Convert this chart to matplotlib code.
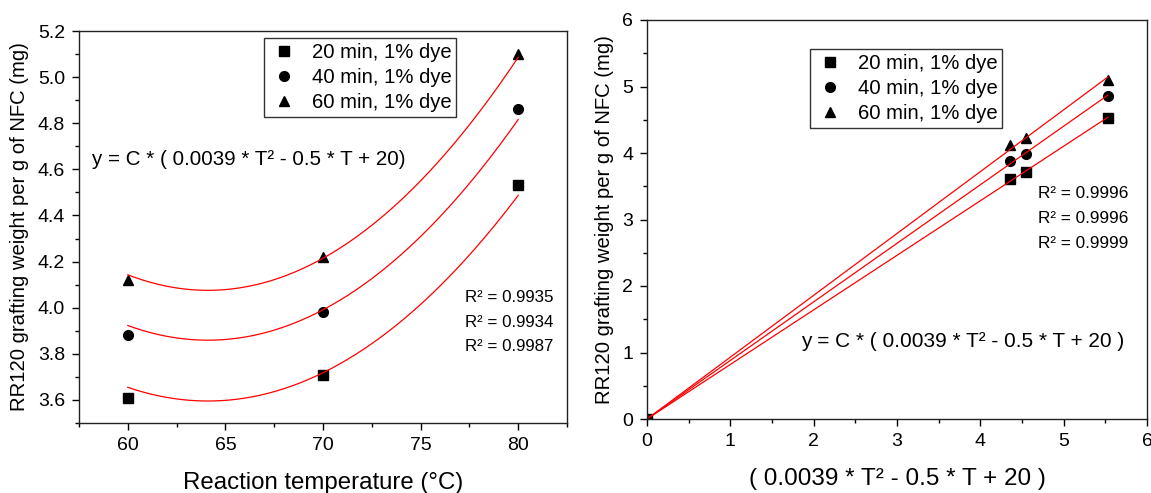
import numpy as np
import matplotlib
matplotlib.use("Agg")
import matplotlib.pyplot as plt
from matplotlib.ticker import MultipleLocator, FormatStrFormatter

plt.rcParams['font.family'] = ['Liberation Sans', 'DejaVu Sans']

# DATA
temps = [60, 70, 80]
labels = ['20 min, 1% dye', '40 min, 1% dye', '60 min, 1% dye']
markers = ['s', 'o', '^']
y_20 = [3.61, 3.71, 4.53]
y_40 = [3.88, 3.98, 4.86]
y_60 = [4.12, 4.22, 5.10]
series = [y_20, y_40, y_60]
# x of right panel = (0.0039*T^2 - 0.5*T + 20), as plotted
x_right = [4.36, 4.55, 5.53]
r2_left = ['0.9935', '0.9934', '0.9987']
r2_right = ['0.9996', '0.9996', '0.9999']


def model(T):
    T = np.asarray(T, dtype=float)
    return 0.0039 * T**2 - 0.5 * T + 20


W, H = 1151, 493
fig = plt.figure(figsize=(W / 100, H / 100), dpi=100)

def px_axes(x0, y0, x1, y1):
    return fig.add_axes([x0 / W, 1 - y1 / H, (x1 - x0) / W, (y1 - y0) / H])

ax1 = px_axes(79, 31, 567, 423)
ax2 = px_axes(647, 20, 1147, 419)

for ax in (ax1, ax2):
    for s in ax.spines.values():
        s.set_linewidth(1.0)
        s.set_color('#222222')
    ax.tick_params(which='major', direction='out', length=5, width=1.0,
                   labelsize=14, pad=5, top=False, right=False)
    ax.tick_params(which='minor', direction='out', length=3, width=1.0,
                   top=False, right=False)

leg_kw = dict(loc='upper left', borderaxespad=0, fontsize=14.6, frameon=True,
              fancybox=False, edgecolor='black', handlelength=1.5,
              handletextpad=0.6, labelspacing=0.3, borderpad=0.25)

# LEFT PANEL
tt = np.linspace(60, 80, 200)
for ys, m, lab in zip(series, markers, labels):
    ax1.plot(temps, ys, linestyle='none', marker=m, color='black',
             markersize=7, label=lab)
    f = model(temps)
    C = np.sum(np.array(ys) * f) / np.sum(f * f)
    ax1.plot(tt, C * model(tt), color='red', lw=0.9)

ax1.set_xlim(57.5, 82.5)
ax1.set_ylim(3.5, 5.2)
ax1.xaxis.set_major_locator(MultipleLocator(5))
ax1.xaxis.set_minor_locator(MultipleLocator(2.5))
ax1.yaxis.set_major_locator(MultipleLocator(0.2))
ax1.yaxis.set_minor_locator(MultipleLocator(0.1))
ax1.yaxis.set_major_formatter(FormatStrFormatter('%.1f'))
ax1.set_xlabel('Reaction temperature (°C)', fontsize=17.3, labelpad=13)
ax1.set_ylabel('RR120 grafting weight per g of NFC (mg)', fontsize=14.6, labelpad=6)

leg1 = ax1.legend(bbox_to_anchor=(0.379, 0.982), **leg_kw)
leg1.get_frame().set_linewidth(1.0)

ax1.text(0.027, 0.671, 'y = C * ( 0.0039 * T² - 0.5 * T + 20)', transform=ax1.transAxes,
         fontsize=14.8, va='center', ha='left')
for i, r in enumerate(r2_left):
    ax1.text(0.791, 0.321 - i * 0.0635, 'R² = ' + r, transform=ax1.transAxes,
             fontsize=12.2, va='center', ha='left')

# RIGHT PANEL
xr = np.array(x_right)
for ys, m, lab in zip(series, markers, labels):
    ax2.plot(x_right, ys, linestyle='none', marker=m, color='black',
             markersize=7, label=lab)
    ax2.plot([0], [0], linestyle='none', marker=m, color='black', markersize=7)
    k = np.sum(xr * np.array(ys)) / np.sum(xr * xr)
    ax2.plot([0, xr.max()], [0, k * xr.max()], color='red', lw=0.9)

ax2.set_xlim(0, 6)
ax2.set_ylim(0, 6)
ax2.xaxis.set_major_locator(MultipleLocator(1))
ax2.xaxis.set_minor_locator(MultipleLocator(0.5))
ax2.yaxis.set_major_locator(MultipleLocator(1))
ax2.yaxis.set_minor_locator(MultipleLocator(0.5))
ax2.set_xlabel('( 0.0039 * T² - 0.5 * T + 20 )', fontsize=17.5, labelpad=13)
ax2.set_ylabel('RR120 grafting weight per g of NFC (mg)', fontsize=14.6, labelpad=6)

leg2 = ax2.legend(bbox_to_anchor=(0.326, 0.927), **leg_kw)
leg2.get_frame().set_linewidth(1.0)

ax2.text(0.308, 0.193, 'y = C * ( 0.0039 * T² - 0.5 * T + 20 )', transform=ax2.transAxes,
         fontsize=15, va='center', ha='left')
for i, r in enumerate(r2_right):
    ax2.text(0.782, 0.566 - i * 0.0635, 'R² = ' + r, transform=ax2.transAxes,
             fontsize=12.4, va='center', ha='left')

fig.savefig('out.png', dpi=100)
